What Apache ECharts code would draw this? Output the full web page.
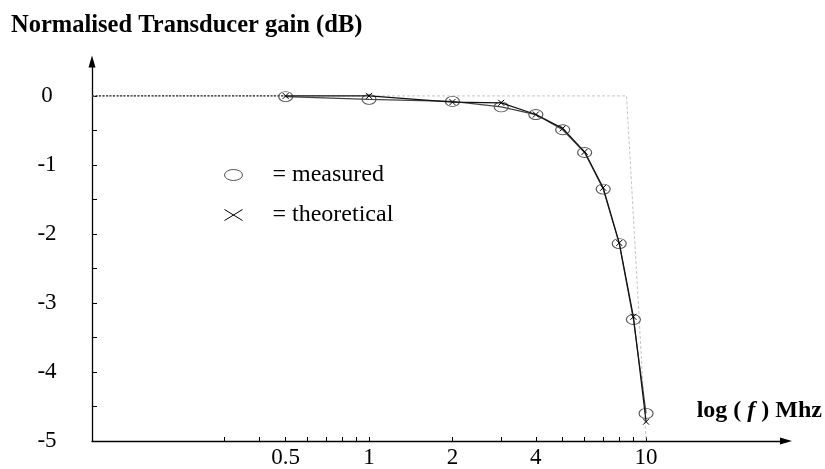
<!DOCTYPE html>
<html>
<head>
<meta charset="utf-8">
<script src="https://cdn.jsdelivr.net/npm/echarts@6/dist/echarts.min.js"></script>
<style>html,body{margin:0;padding:0;background:#fff;}#c{width:825px;height:469px;}</style>
</head>
<body>
<div id="c"></div>
<script>
// ---- data ----
const freqMHz = [0.5, 1, 2, 3, 4, 5, 6, 7, 8, 9, 10];
const measuredDb = [-0.01, -0.05, -0.08, -0.16, -0.27, -0.49, -0.82, -1.35, -2.14, -3.24, -4.6];
const theoreticalDb = [0, 0, -0.09, -0.1, -0.27, -0.47, -0.81, -1.33, -2.13, -3.2, -4.72];
const idealFreq = [0.1, 8.5, 10];
const idealDb = [0, 0, -5];
const lowFreq = [0.1, 0.5];
const lowDb = [0, 0];
const xTickFreqs = [0.3, 0.4, 0.5, 0.6, 0.7, 0.8, 0.9, 1, 2, 3, 4, 5, 6, 7, 8, 9, 10];
const xLabelFreqs = [0.5, 1, 2, 4, 10];
const yLabelValues = [0, -1, -2, -3, -4, -5];
const yTickValues = [0, -0.5, -1, -1.5, -2, -2.5, -3, -3.5, -4, -4.5, -5];

const lg = f => Math.log10(f);
const pairs = (xs, ys) => xs.map((x, i) => [lg(x), ys[i]]);
const serif = 'Liberation Serif';
const ellipsePath = 'path://M0,5A9,5 0 1,0 18,5A9,5 0 1,0 0,5Z';

const chart = echarts.init(document.getElementById('c'), null, {renderer: 'canvas'});
chart.setOption({
  animation: false,
  backgroundColor: '#fff',
  title: {
    text: 'Normalised Transducer gain (dB)',
    left: 11, top: 13, padding: 0,
    textStyle: {fontFamily: serif, fontWeight: 'bold', fontSize: 24.5, color: '#000'}
  },
  legend: {
    orient: 'vertical',
    left: 217, top: 158,
    itemWidth: 18, itemHeight: 11, itemGap: 16,
    symbolKeepAspect: false,
    formatter: n => '= ' + n,
    textStyle: {fontFamily: serif, fontSize: 24, color: '#000', padding: [0, 0, 0, 25]},
    data: [
      {name: 'measured', icon: ellipsePath, itemStyle: {color: 'transparent', borderColor: '#555', borderWidth: 1}},
      {name: 'theoretical', icon: 'path://M0,0L14,10M14,0L0,10', itemStyle: {color: 'none', borderColor: '#000', borderWidth: 1}}
    ]
  },
  grid: {left: 92, right: 39, top: 61.4, bottom: 26},
  xAxis: {
    type: 'value',
    min: -1, max: 1.505,
    name: '{b|log ( }{i|f}{b| ) Mhz}',
    nameLocation: 'end',
    nameGap: 36,
    nameTextStyle: {
      align: 'right', verticalAlign: 'bottom', padding: [0, 0, 18, 0],
      rich: {
        b: {fontFamily: serif, fontWeight: 'bold', fontSize: 24, color: '#000'},
        i: {fontFamily: serif, fontWeight: 'bold', fontStyle: 'italic', fontSize: 24, color: '#000'}
      }
    },
    axisLine: {show: true, onZero: false, symbol: ['none', 'triangle'], symbolSize: [7, 12],
      lineStyle: {color: '#000', width: 1.3}},
    axisTick: {show: true, inside: true, length: 4, customValues: xTickFreqs.map(lg),
      lineStyle: {color: '#000', width: 1}},
    axisLabel: {show: true, margin: 5, customValues: xLabelFreqs.map(lg),
      formatter: v => String(Math.round(Math.pow(10, v) * 100) / 100),
      fontFamily: serif, fontSize: 23, color: '#000'},
    splitLine: {show: false}
  },
  yAxis: {
    type: 'value',
    min: -5, max: 0.5,
    axisLine: {show: true, onZero: false, symbol: ['none', 'triangle'], symbolSize: [7, 12],
      lineStyle: {color: '#000', width: 1.3}},
    axisTick: {show: true, inside: true, length: 5, customValues: yTickValues,
      lineStyle: {color: '#000', width: 1}},
    axisLabel: {show: true, align: 'center', margin: 45, customValues: yLabelValues,
      formatter: v => String(v),
      fontFamily: serif, fontSize: 23, color: '#000'},
    splitLine: {show: false}
  },
  series: [
    {
      name: 'ideal', type: 'line', silent: true, symbol: 'none',
      data: pairs(idealFreq, idealDb),
      lineStyle: {color: '#c4c4c4', width: 1, type: [3, 2]}, z: 1
    },
    {
      name: 'low', type: 'line', silent: true, symbol: 'none',
      data: pairs(lowFreq, lowDb),
      lineStyle: {color: '#222', width: 1.2, type: [2, 1.5]}, z: 2
    },
    {
      name: 'measured', type: 'line',
      data: pairs(freqMHz, measuredDb),
      symbol: 'circle', symbolSize: [14, 10],
      itemStyle: {color: 'transparent', borderColor: '#555', borderWidth: 1},
      lineStyle: {color: '#444', width: 1.2}, z: 3
    },
    {
      name: 'theoretical', type: 'line',
      data: pairs(freqMHz, theoreticalDb),
      symbol: 'path://M0,0L10,10M10,0L0,10', symbolSize: 6,
      itemStyle: {color: 'none', borderColor: '#000', borderWidth: 1},
      lineStyle: {color: '#111', width: 1.2}, z: 4
    }
  ]
});
</script>
</body>
</html>
